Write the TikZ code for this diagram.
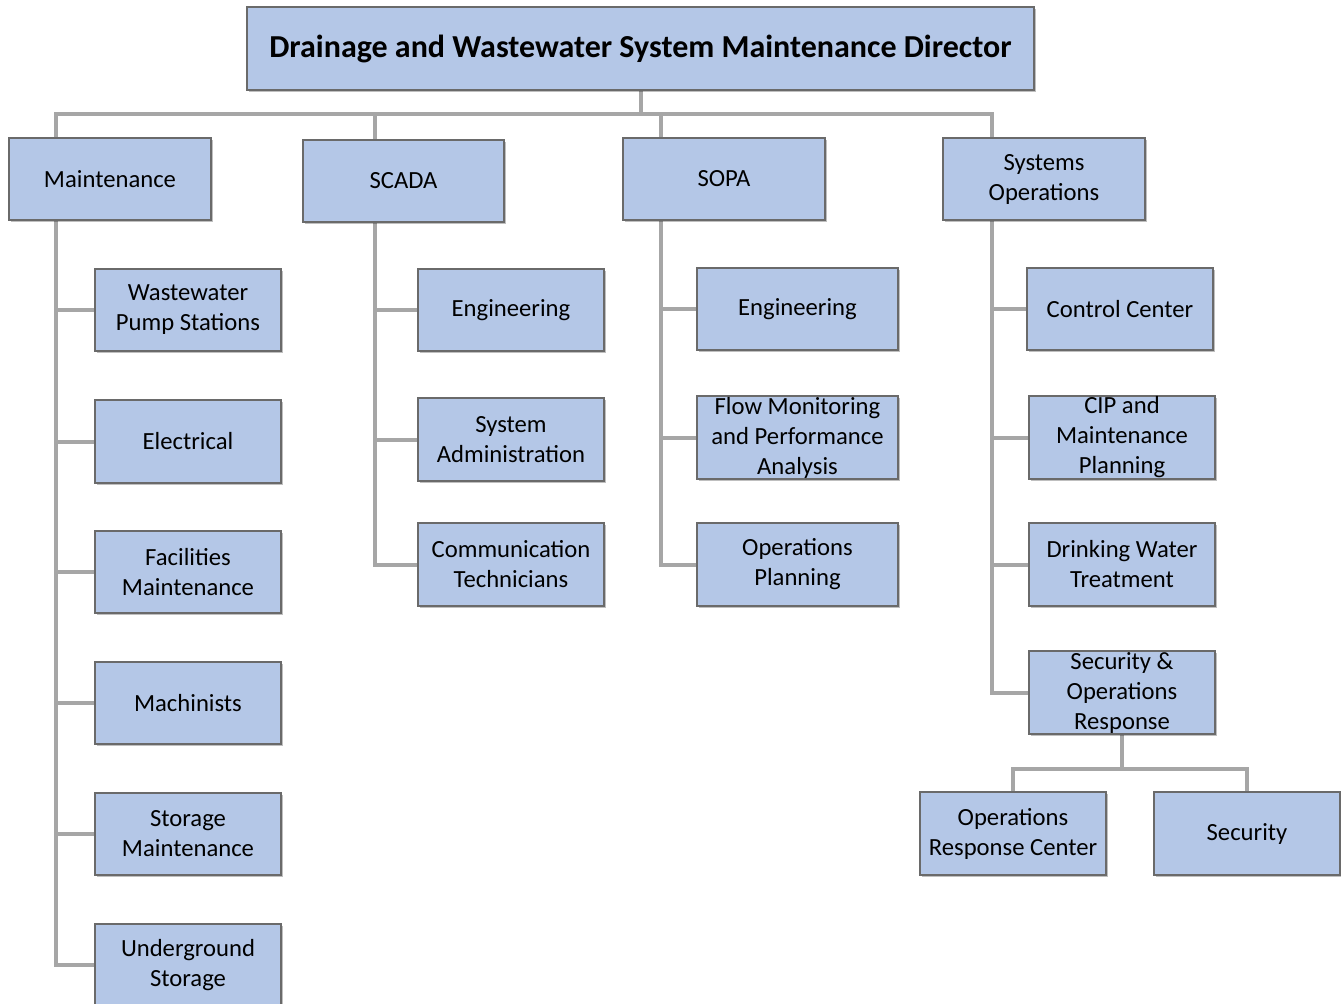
\documentclass[tikz,border=0pt]{standalone}
\usepackage{fontspec}
\setmainfont{Carlito}
\usetikzlibrary{backgrounds,shadows}
\definecolor{boxfill}{HTML}{B4C7E7}
\definecolor{boxline}{HTML}{6A6A6A}
\definecolor{conn}{HTML}{A6A6A6}
\tikzset{
  orgbox/.style={draw=boxline, line width=1.1pt, fill=boxfill, inner sep=0pt, align=center,
    font=\fontsize{18.5}{22.5}\selectfont,
    drop shadow={shadow xshift=1.2pt, shadow yshift=-1.2pt, opacity=0.25, fill=black}},
  link/.style={draw=conn, line width=3pt}
}
\newcommand{\orgnode}[6]{%
  \node[orgbox, minimum width={(#4-#2)*0.75pt}, minimum height={(#5-#3)*0.75pt}]
    (#1) at ({(#2+#4)/2},{(#3+#5)/2}) {#6};}
\begin{document}
\begin{tikzpicture}[x=0.75pt,y=-0.75pt]
\useasboundingbox (0,0) rectangle (1341,1003);
\clip (0,0) rectangle (1341,1003);
% title
\node[orgbox, font=\fontsize{24}{28}\selectfont\bfseries, minimum width={787*0.75pt}, minimum height={83*0.75pt}]
  (title) at (640.5,48.5) {Drainage and Wastewater System Maintenance Director};
% level 1
\orgnode{maint}{9}{138}{211}{220}{Maintenance}
\orgnode{scada}{303}{140}{504}{222}{SCADA}
\orgnode{sopa}{623}{138}{825}{220}{SOPA}
\orgnode{sysops}{943}{138}{1145}{220}{Systems\\Operations}
% maintenance children
\orgnode{wps}{95}{269}{281}{351}{Wastewater\\Pump Stations}
\orgnode{elec}{95}{400}{281}{483}{Electrical}
\orgnode{fac}{95}{531}{281}{613}{Facilities\\Maintenance}
\orgnode{mach}{95}{662}{281}{744}{Machinists}
\orgnode{stor}{95}{793}{281}{875}{Storage\\Maintenance}
\orgnode{ugs}{95}{924}{281}{1006}{Underground\\Storage}
% scada children
\orgnode{scEng}{418}{269}{604}{351}{Engineering}
\orgnode{scAdm}{418}{398}{604}{481}{System\\Administration}
\orgnode{scCom}{418}{523}{604}{606}{Communication\\Technicians}
% sopa children
\orgnode{soEng}{697}{268}{898}{350}{Engineering}
\orgnode{soFlow}{697}{396}{898}{479}{Flow Monitoring\\and Performance\\Analysis}
\orgnode{soOps}{697}{523}{898}{606}{Operations\\Planning}
% systems operations children
\orgnode{cc}{1027}{268}{1213}{350}{Control Center}
\orgnode{cip}{1029}{396}{1215}{479}{CIP and\\Maintenance\\Planning}
\orgnode{dwt}{1029}{523}{1215}{606}{Drinking Water\\Treatment}
\orgnode{sor}{1029}{651}{1215}{734}{Security \&\\Operations\\Response}
\orgnode{orc}{920}{792}{1106}{875}{Operations\\Response Center}
\orgnode{sec}{1154}{792}{1340}{875}{Security}
\begin{scope}[on background layer]
  \draw[link] (title.south) -- ++(0,23) coordinate (bus);
  \draw[link] (maint.north west) ++(48,0) |- (bus);
  \draw[link] (scada.north west) ++(73,0) |- (bus);
  \draw[link] (sopa.north west) ++(39,0) |- (bus);
  \draw[link] (sysops.north west) ++(50,0) |- (bus);
  \foreach \c in {wps,elec,fac,mach,stor,ugs}
    \draw[link] (maint.south west) ++(48,0) |- (\c.west);
  \foreach \c in {scEng,scAdm,scCom}
    \draw[link] (scada.south west) ++(73,0) |- (\c.west);
  \foreach \c in {soEng,soFlow,soOps}
    \draw[link] (sopa.south west) ++(39,0) |- (\c.west);
  \foreach \c in {cc,cip,dwt,sor}
    \draw[link] (sysops.south west) ++(50,0) |- (\c.west);
  \draw[link] (sor.south) -- ++(0,34) coordinate (sb);
  \draw[link] (orc.north) |- (sb);
  \draw[link] (sec.north) |- (sb);
\end{scope}
\end{tikzpicture}
\end{document}
